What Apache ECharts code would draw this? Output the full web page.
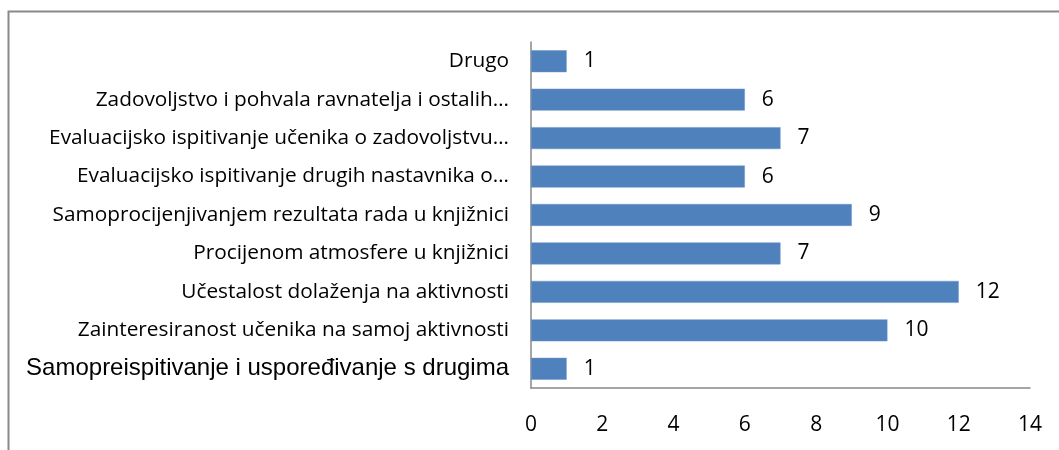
<!DOCTYPE html>
<html>
<head>
<meta charset="utf-8">
<script src="https://cdn.jsdelivr.net/npm/echarts@6/dist/echarts.min.js"></script>
<style>
  html, body { margin: 0; padding: 0; background: #fff; }
  #chart { width: 1059px; height: 450px; }
</style>
</head>
<body>
<div id="chart"></div>
<script>
// Categories listed bottom to top, as the category axis draws them
const categories = [
  'Samopreispitivanje i uspoređivanje s drugima',
  'Zainteresiranost učenika na samoj aktivnosti',
  'Učestalost dolaženja na aktivnosti',
  'Procijenom atmosfere u knjižnici',
  'Samoprocijenjivanjem rezultata rada u knjižnici',
  'Evaluacijsko ispitivanje drugih nastavnika o…',
  'Evaluacijsko ispitivanje učenika o zadovoljstvu…',
  'Zadovoljstvo i pohvala ravnatelja i ostalih…',
  'Drugo'
];
const values = [1, 10, 12, 7, 9, 6, 7, 6, 1];
const xTicks = [0, 2, 4, 6, 8, 10, 12, 14];

const chart = echarts.init(document.getElementById('chart'));

const labelFont = '"Open Sans", Lato, sans-serif';

chart.setOption({
  animation: false,
  backgroundColor: '#ffffff',
  graphic: [{
    type: 'rect',
    shape: { x: 8.5, y: 11.5, width: 1200, height: 600 },
    style: { fill: 'none', stroke: '#898989', lineWidth: 2 },
    silent: true
  }],
  grid: { left: 531, right: 29, top: 42, bottom: 62, containLabel: false },
  xAxis: {
    type: 'value',
    min: xTicks[0],
    max: xTicks[xTicks.length - 1],
    interval: 2,
    axisLine: { show: true, lineStyle: { color: '#888888', width: 1.5 } },
    axisTick: { show: false },
    splitLine: { show: false },
    axisLabel: {
      margin: 27,
      color: '#000',
      fontFamily: labelFont,
      fontSize: 21,
      formatter: v => xTicks.includes(v) ? String(v) : ''
    }
  },
  yAxis: {
    type: 'category',
    data: categories,
    axisLine: { show: true, lineStyle: { color: '#888888', width: 1.5 } },
    axisTick: { show: false },
    axisLabel: {
      margin: 22,
      color: '#000',
      formatter: (v, i) => i === 0 ? '{a|' + v + '}' : '{b|' + v + '}',
      rich: {
        a: { fontFamily: '"Liberation Sans", Arial, sans-serif', fontSize: 24, color: '#000' },
        b: { fontFamily: labelFont, fontSize: 20.8, color: '#000' }
      }
    }
  },
  series: [{
    type: 'bar',
    data: values,
    barWidth: '57%',
    itemStyle: { color: '#4f81bd', borderColor: '#6a94c8', borderWidth: 0.5 },
    label: {
      show: true,
      position: 'right',
      distance: 17,
      color: '#000',
      fontFamily: labelFont,
      fontSize: 21
    }
  }]
});
</script>
</body>
</html>
